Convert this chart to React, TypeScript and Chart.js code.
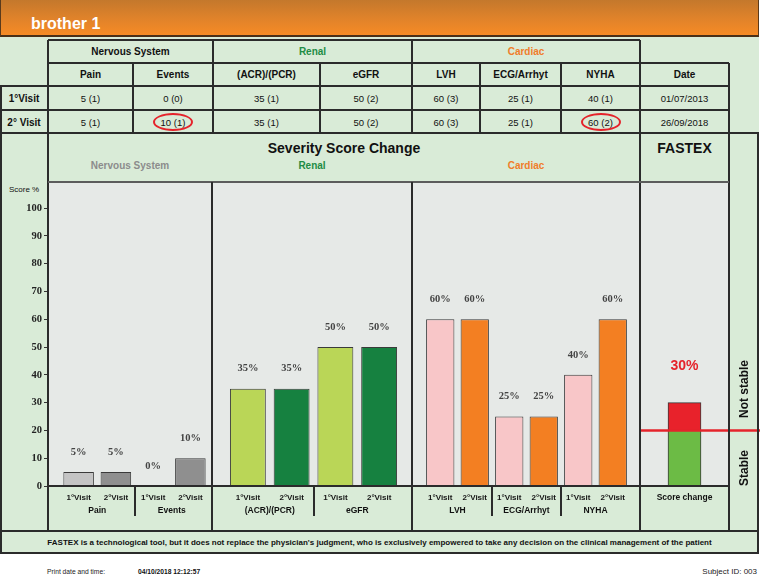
import React, { useEffect, useRef } from "react";
import { Chart, registerables } from "chart.js";
Chart.register(...registerables);

// ---------- data ----------
const patientName = "brother 1";
const domainNames = ["Nervous System", "Renal", "Cardiac"];
const nervousItems = ["Pain", "Events"];
const renalItems = ["(ACR)/(PCR)", "eGFR"];
const cardiacItems = ["LVH", "ECG/Arrhyt", "NYHA"];
const visitLabels = ["1°Visit", "2°Visit"];
const rowLabels = ["1°Visit", "2° Visit"];
const visit1Scores = [5, 0, 35, 50, 60, 25, 40];
const visit1Grades = [1, 0, 1, 2, 3, 1, 1];
const visit2Scores = [5, 10, 35, 50, 60, 25, 60];
const visit2Grades = [1, 1, 1, 2, 3, 1, 2];
const visitDates = ["01/07/2013", "26/09/2018"];
const fastexLabels = ["Score change"];
const fastexScore = [30];
const fastexThreshold = 20;
const printDate = "04/10/2018 12:12:57";
const subjectId = "003";
const disclaimer =
  "FASTEX is a technological tool, but it does not replace the physician's judgment, who is exclusively empowered to take any decision on the clinical management of the patient";

// ---------- styles ----------
const SANS = "'Liberation Sans', Arial, Helvetica, sans-serif";
const SERIF = "'Liberation Serif', 'Times New Roman', serif";
const GREEN_BG = "#d9ebd7";
const PLOT_BG = "#e6e9e7";
const LINE = "#2b2b2b";
const RED = "#e5232b";
const BAR_BORDER = "#3a3a3a";
const TOP_PAD = 26;
const AXIS_H = 39;
const CHART_TOP = 182;
const CHART_H = 343;

const nervousColors = ["#c4c4c4", "#8f8f8f"];
const renalColors = ["#bad657", "#168140"];
const cardiacColors = ["#f8c6c8", "#f37f22"];
const stableColor = "#6cbb45";
const unstableColor = "#e8222b";

const panelPlugin = {
  id: "panelDecor",
  afterDatasetsDraw(chart: any) {
    const ctx = chart.ctx;
    const xs = chart.scales.x;
    const ys = chart.scales.y;
    const y0 = ys.getPixelForValue(0);
    ctx.save();
    ctx.textAlign = "center";
    ctx.textBaseline = "middle";
    chart.data.datasets.forEach((ds: any, di: number) => {
      const meta = chart.getDatasetMeta(di);
      meta.data.forEach((el: any, i: number) => {
        ctx.font = `bold 10.5px ${SERIF}`;
        ctx.fillStyle = "#444";
        ctx.fillText(ds.data[i] + "%", el.x, el.y - 20);
        ctx.font = `bold 8px ${SANS}`;
        ctx.fillStyle = "#151515";
        ctx.fillText(ds.label, el.x, xs.top + 12);
      });
    });
    ctx.strokeStyle = LINE;
    ctx.lineWidth = 2;
    ctx.beginPath();
    ctx.moveTo(0, y0);
    ctx.lineTo(chart.width, y0);
    ctx.stroke();
    const n = chart.data.labels.length;
    for (let i = 0; i < n - 1; i++) {
      const sx = Math.round((xs.getPixelForTick(i) + xs.getPixelForTick(i + 1)) / 2);
      ctx.beginPath();
      ctx.moveTo(sx, xs.top);
      ctx.lineTo(sx, xs.top + 30);
      ctx.stroke();
    }
    ctx.restore();
  },
};

const fastexPlugin = {
  id: "fastexDecor",
  afterDatasetsDraw(chart: any) {
    const ctx = chart.ctx;
    const xs = chart.scales.x;
    const ys = chart.scales.y;
    const area = chart.chartArea;
    ctx.save();
    const y0 = ys.getPixelForValue(0);
    ctx.strokeStyle = LINE;
    ctx.lineWidth = 2;
    ctx.beginPath();
    ctx.moveTo(0, y0);
    ctx.lineTo(area.right, y0);
    ctx.stroke();
    const yt = ys.getPixelForValue(fastexThreshold);
    ctx.strokeStyle = RED;
    ctx.lineWidth = 2.5;
    ctx.beginPath();
    ctx.moveTo(area.left, yt);
    ctx.lineTo(chart.width, yt);
    ctx.stroke();
    ctx.fillStyle = RED;
    ctx.font = `bold 14px ${SANS}`;
    ctx.textAlign = "center";
    ctx.textBaseline = "middle";
    fastexScore.forEach((s, i) => {
      ctx.fillText(s + "%", xs.getPixelForTick(i), ys.getPixelForValue(s) - 36);
    });
    ctx.restore();
  },
};

function panelConfig(items: string[], v1: number[], v2: number[], colors: string[], padL: number, padR: number): any {
  return {
    type: "bar",
    data: {
      labels: items,
      datasets: [
        { label: visitLabels[0], data: v1, backgroundColor: colors[0], borderColor: BAR_BORDER, borderWidth: 1, categoryPercentage: 1, barPercentage: 0.82 },
        { label: visitLabels[1], data: v2, backgroundColor: colors[1], borderColor: BAR_BORDER, borderWidth: 1, categoryPercentage: 1, barPercentage: 0.82 },
      ],
    },
    options: {
      responsive: false,
      animation: false,
      layout: { padding: { top: TOP_PAD, bottom: 0, left: padL, right: padR } },
      plugins: { legend: { display: false }, tooltip: { enabled: false } },
      scales: {
        x: {
          grid: { display: false, drawTicks: false },
          border: { display: false },
          ticks: { padding: 20, color: "#111", font: { family: SANS, size: 8.5, weight: "bold" }, maxRotation: 0, autoSkip: false },
          afterFit: (s: any) => { s.height = AXIS_H; },
        },
        y: { display: false, min: 0, max: 100 },
      },
    },
    plugins: [panelPlugin],
  };
}

function yConfig(): any {
  return {
    type: "bar",
    data: { labels: [""], datasets: [{ data: [null] }] },
    options: {
      responsive: false,
      animation: false,
      layout: { padding: { top: TOP_PAD, bottom: AXIS_H, left: 0, right: 0 } },
      plugins: { legend: { display: false }, tooltip: { enabled: false } },
      scales: {
        x: { display: false },
        y: {
          min: 0,
          max: 100,
          ticks: { stepSize: 10, color: "#222", padding: 2, font: { family: SERIF, size: 10.5, weight: "bold" } },
          grid: { drawOnChartArea: false, drawTicks: true, tickLength: 4, color: "#333" },
          border: { display: true, color: LINE, width: 2 },
          afterFit: (s: any) => { s.width = 48; },
        },
      },
    },
  };
}

function fastexConfig(): any {
  const stable = fastexScore.map((s) => Math.min(s, fastexThreshold));
  const unstable = fastexScore.map((s) => Math.max(s - fastexThreshold, 0));
  return {
    type: "bar",
    data: {
      labels: fastexLabels,
      datasets: [
        { label: "Stable", data: stable, backgroundColor: stableColor, borderColor: BAR_BORDER, borderWidth: 1, barThickness: 33 },
        { label: "Not stable", data: unstable, backgroundColor: unstableColor, borderColor: BAR_BORDER, borderWidth: 1, barThickness: 33 },
      ],
    },
    options: {
      responsive: false,
      animation: false,
      layout: { padding: { top: TOP_PAD, bottom: 0, left: 0, right: 31 } },
      plugins: { legend: { display: false }, tooltip: { enabled: false } },
      scales: {
        x: {
          stacked: true,
          grid: { display: false, drawTicks: false },
          border: { display: false },
          ticks: { padding: 7, color: "#111", font: { family: SANS, size: 8.5, weight: "bold" }, maxRotation: 0 },
          afterFit: (s: any) => { s.height = AXIS_H; },
        },
        y: { stacked: true, display: false, min: 0, max: 100 },
      },
    },
    plugins: [fastexPlugin],
  };
}

// ---------- layout helpers ----------
function HLine({ x1, x2, y, color = LINE, w = 2 }: any) {
  return <div style={{ position: "absolute", left: x1, top: y - w / 2, width: x2 - x1, height: w, background: color }} />;
}
function VLine({ x, y1, y2, color = LINE, w = 2 }: any) {
  return <div style={{ position: "absolute", left: x - w / 2, top: y1, width: w, height: y2 - y1, background: color }} />;
}
function Txt({ x, y, w, h, children, style }: any) {
  return (
    <div
      style={{
        position: "absolute", left: x, top: y, width: w, height: h,
        display: "flex", alignItems: "center", justifyContent: "center",
        fontFamily: SANS, fontSize: 10, color: "#111", whiteSpace: "nowrap", ...style,
      }}
    >
      {children}
    </div>
  );
}

const colEdges = [48, 133, 213, 320, 412, 480, 561, 640, 729];
const rowEdges = [40, 63, 86, 110, 133];
const domainSpans = [[0, 2], [2, 4], [4, 7]];
const domainColors = ["#111", "#1f8c45", "#f07d2a"];
const subDomainColors = ["#8c8c8c", "#1f8c45", "#f07d2a"];
const allItems = [...nervousItems, ...renalItems, ...cardiacItems];

export default function App() {
  const yRef = useRef<HTMLCanvasElement>(null);
  const nRef = useRef<HTMLCanvasElement>(null);
  const rRef = useRef<HTMLCanvasElement>(null);
  const cRef = useRef<HTMLCanvasElement>(null);
  const fRef = useRef<HTMLCanvasElement>(null);

  useEffect(() => {
    const charts: Chart[] = [];
    charts.push(new Chart(yRef.current!, yConfig()));
    charts.push(new Chart(nRef.current!, panelConfig(nervousItems, visit1Scores.slice(0, 2), visit2Scores.slice(0, 2), nervousColors, 12, 3)));
    charts.push(new Chart(rRef.current!, panelConfig(renalItems, visit1Scores.slice(2, 4), visit2Scores.slice(2, 4), renalColors, 14, 11)));
    charts.push(new Chart(cRef.current!, panelConfig(cardiacItems, visit1Scores.slice(4, 7), visit2Scores.slice(4, 7), cardiacColors, 11, 10)));
    charts.push(new Chart(fRef.current!, fastexConfig()));
    return () => charts.forEach((c) => c.destroy());
  }, []);

  const rows = [
    { label: rowLabels[0], scores: visit1Scores, grades: visit1Grades, date: visitDates[0] },
    { label: rowLabels[1], scores: visit2Scores, grades: visit2Grades, date: visitDates[1] },
  ];

  const canvasStyle = (left: number): any => ({ position: "absolute", left, top: CHART_TOP });

  return (
    <div style={{ position: "absolute", left: 0, top: 0, width: 760, height: 577, background: "#fff", overflow: "hidden", fontFamily: SANS }}>
      {/* green background */}
      <div style={{ position: "absolute", left: 0, top: 36, width: 759, height: 518, background: GREEN_BG }} />
      {/* header */}
      <div
        style={{
          position: "absolute", left: 0, top: 0, width: 759, height: 37, boxSizing: "border-box",
          background: "linear-gradient(to bottom, #c4782c 0%, #e1832a 55%, #f68b25 100%)",
          borderLeft: "1px solid #5a3a1c", borderRight: "1px solid #5a3a1c", borderBottom: "2px solid #4a3018",
        }}
      >
        <div style={{ position: "absolute", left: 30, top: 15, fontSize: 16, fontWeight: "bold", color: "#fff", lineHeight: "18px" }}>{patientName}</div>
      </div>

      {/* plot backgrounds */}
      <div style={{ position: "absolute", left: 48, top: 182, width: 681, height: 304, background: PLOT_BG }} />

      {/* table header: domains */}
      {domainSpans.map(([a, b], i) => (
        <Txt key={"d" + i} x={colEdges[a]} y={rowEdges[0]} w={colEdges[b] - colEdges[a]} h={23} style={{ fontWeight: "bold", color: domainColors[i] }}>
          {domainNames[i]}
        </Txt>
      ))}
      {allItems.map((it, i) => (
        <Txt key={"i" + i} x={colEdges[i]} y={rowEdges[1]} w={colEdges[i + 1] - colEdges[i]} h={23} style={{ fontWeight: "bold" }}>{it}</Txt>
      ))}
      <Txt x={colEdges[7]} y={rowEdges[1]} w={colEdges[8] - colEdges[7]} h={23} style={{ fontWeight: "bold" }}>Date</Txt>
      {rows.map((r, ri) => (
        <React.Fragment key={"r" + ri}>
          <Txt x={0} y={rowEdges[2 + ri]} w={48} h={24} style={{ fontWeight: "bold" }}>{r.label}</Txt>
          {r.scores.map((s, i) => (
            <Txt key={i} x={colEdges[i]} y={rowEdges[2 + ri]} w={colEdges[i + 1] - colEdges[i]} h={24} style={{ fontSize: 9.5 }}>
              {`${s} (${r.grades[i]})`}
            </Txt>
          ))}
          <Txt x={colEdges[7]} y={rowEdges[2 + ri]} w={colEdges[8] - colEdges[7]} h={24} style={{ fontSize: 9.5 }}>{r.date}</Txt>
        </React.Fragment>
      ))}
      {/* change circles */}
      {visit2Scores.map((s, i) =>
        s !== visit1Scores[i] || visit2Grades[i] !== visit1Grades[i] ? (
          <div
            key={"c" + i}
            style={{
              position: "absolute", left: (colEdges[i] + colEdges[i + 1]) / 2 - 20, top: 113, width: 40, height: 18,
              boxSizing: "border-box", border: `2px solid ${RED}`, borderRadius: "50%",
            }}
          />
        ) : null
      )}

      {/* chart titles */}
      <Txt x={48} y={138} w={592} h={20} style={{ fontSize: 14, fontWeight: "bold" }}>Severity Score Change</Txt>
      <Txt x={640} y={138} w={89} h={20} style={{ fontSize: 14, fontWeight: "bold" }}>FASTEX</Txt>
      {[[48, 212], [212, 412], [412, 640]].map(([a, b], i) => (
        <Txt key={"s" + i} x={a} y={157} w={b - a} h={16} style={{ fontWeight: "bold", color: subDomainColors[i] }}>{domainNames[i]}</Txt>
      ))}
      <div style={{ position: "absolute", left: 9, top: 185, fontSize: 8, color: "#111" }}>Score %</div>

      {/* charts */}
      <canvas ref={yRef} width={50} height={CHART_H} style={canvasStyle(0)} />
      <canvas ref={nRef} width={164} height={CHART_H} style={canvasStyle(48)} />
      <canvas ref={rRef} width={200} height={CHART_H} style={canvasStyle(212)} />
      <canvas ref={cRef} width={228} height={CHART_H} style={canvasStyle(412)} />
      <canvas ref={fRef} width={120} height={CHART_H} style={canvasStyle(640)} />

      {/* stability labels */}
      <div style={{ position: "absolute", left: 744, top: 389, transform: "translate(-50%,-50%) rotate(-90deg)", fontSize: 12, fontWeight: "bold", whiteSpace: "nowrap", color: "#111" }}>Not stable</div>
      <div style={{ position: "absolute", left: 744, top: 468, transform: "translate(-50%,-50%) rotate(-90deg)", fontSize: 12, fontWeight: "bold", whiteSpace: "nowrap", color: "#111" }}>Stable</div>

      {/* table lines */}
      <HLine x1={48} x2={640} y={40} />
      <HLine x1={48} x2={729} y={63} />
      <HLine x1={0} x2={729} y={86} />
      <HLine x1={0} x2={729} y={110} />
      <HLine x1={0} x2={759} y={133} />
      <VLine x={1} y1={86} y2={530} />
      <VLine x={48} y1={40} y2={530} />
      <VLine x={133} y1={63} y2={133} />
      <VLine x={213} y1={40} y2={133} />
      <VLine x={320} y1={63} y2={133} />
      <VLine x={412} y1={40} y2={133} />
      <VLine x={480} y1={63} y2={133} />
      <VLine x={561} y1={63} y2={133} />
      <VLine x={640} y1={40} y2={530} />
      <VLine x={729} y1={63} y2={530} />
      <VLine x={758} y1={133} y2={530} />
      {/* chart section lines */}
      <HLine x1={48} x2={729} y={182} color="#5c5c5c" />
      <VLine x={212} y1={182} y2={530} />
      <VLine x={412} y1={182} y2={530} />

      {/* footer */}
      <div
        style={{
          position: "absolute", left: 0, top: 530, width: 759, height: 24, boxSizing: "border-box",
          border: `2px solid ${LINE}`, display: "flex", alignItems: "center", justifyContent: "center",
          fontSize: 8, fontWeight: "bold", color: "#111", whiteSpace: "nowrap", background: GREEN_BG,
        }}
      >
        {disclaimer}
      </div>
      <div style={{ position: "absolute", left: 47, top: 567, fontSize: 6.7, color: "#222", lineHeight: "10px" }}>Print date and time:</div>
      <div style={{ position: "absolute", left: 138, top: 567, fontSize: 6.7, fontWeight: "bold", color: "#111", lineHeight: "10px" }}>{printDate}</div>
      <div style={{ position: "absolute", right: 3, top: 566, fontSize: 8, color: "#222", lineHeight: "11px" }}>{`Subject ID: ${subjectId}`}</div>
    </div>
  );
}
